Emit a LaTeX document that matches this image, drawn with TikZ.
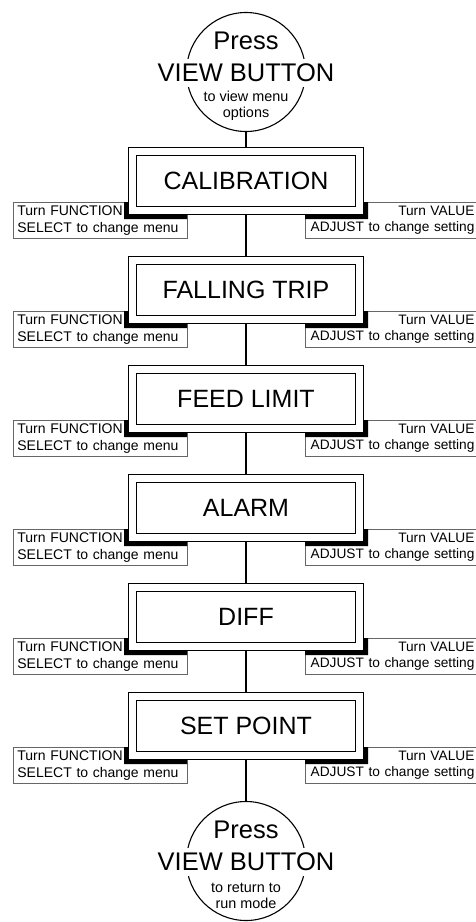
\documentclass[tikz,border=0pt]{standalone}
\usepackage{fontspec}
\setmainfont{Liberation Sans}
\usetikzlibrary{positioning,calc}

\begin{document}
\begin{tikzpicture}[x=1pt,y=1pt,
        menu/.style = {draw, double, double distance=7pt, line width=1pt, fill=white,
            minimum width=227.5pt, minimum height=59pt, inner sep=0pt, outer sep=4.5pt,
            font=\fontsize{25}{30}\selectfont},
        press/.style = {draw, circle, line width=1.1pt, minimum size=119pt, inner sep=0pt},
        big/.style = {fill=white, inner xsep=2pt, inner ysep=5pt, font=\fontsize{25.5}{30}\selectfont},
        small/.style = {align=center, inner sep=0pt, font=\fontsize{14.4}{16}\selectfont},
        tip/.style = {draw=black!60, fill=white, line width=0.8pt, minimum height=36pt,
            text width=166pt, inner xsep=4pt, inner ysep=0pt,
            font=\fontsize{14}{16.5}\selectfont},
        wire/.style = {line width=1.1pt},
        ]
        \useasboundingbox (0,0) rectangle (476,-922);
        \clip (0,0) rectangle (476,-922);

        % start and end buttons
        \node[press](top) at (246,-72) {};
        \node[big](topa) at (246,-41) {Press};
        \node[big](topb) at (246,-73) {VIEW BUTTON};
        \node[small](topc) at (246,-106) {to view menu\\options};

        \node[press](bot) at (246,-861) {};
        \node[big](bota) at (246,-830) {Press};
        \node[big](botb) at (246,-862) {VIEW BUTTON};
        \node[small](botc) at (246,-896) {to return to\\run mode};

        % menu boxes with their knob hints
        \foreach \name [count=\i] in {CALIBRATION, FALLING TRIP, FEED LIMIT, ALARM, DIFF, SET POINT} {
            \pgfmathsetmacro\yc{-181-109*(\i-1)}
            \node[tip, align=left, anchor=north west](lfun\i) at (13,\yc-21) {Turn FUNCTION\\SELECT to change menu};
            \node[tip, text width=165pt, align=right, anchor=north west,
                font=\fontsize{13.7}{16.5}\selectfont](rval\i) at (305,\yc-21) {Turn VALUE\\ADJUST to change setting};
            \fill (124,\yc-21) -- (128,\yc-21) -- (128,\yc-34) -- (187,\yc-34)
                -- (187,\yc-38) -- (124,\yc-38) -- cycle;
            \fill (368,\yc-21) -- (364,\yc-21) -- (364,\yc-34) -- (305,\yc-34)
                -- (305,\yc-38) -- (368,\yc-38) -- cycle;
            \node[menu](b\i) at (246,\yc) {\name};
        }

        \draw[wire] (top.south) -- (b1.north);
        \foreach \i [evaluate=\i as \j using int(\i+1)] in {1,...,5}
            \draw[wire] (b\i.south) -- (b\j.north);
        \draw[wire] (b6.south) -- (bot.north);
\end{tikzpicture}
\end{document}
